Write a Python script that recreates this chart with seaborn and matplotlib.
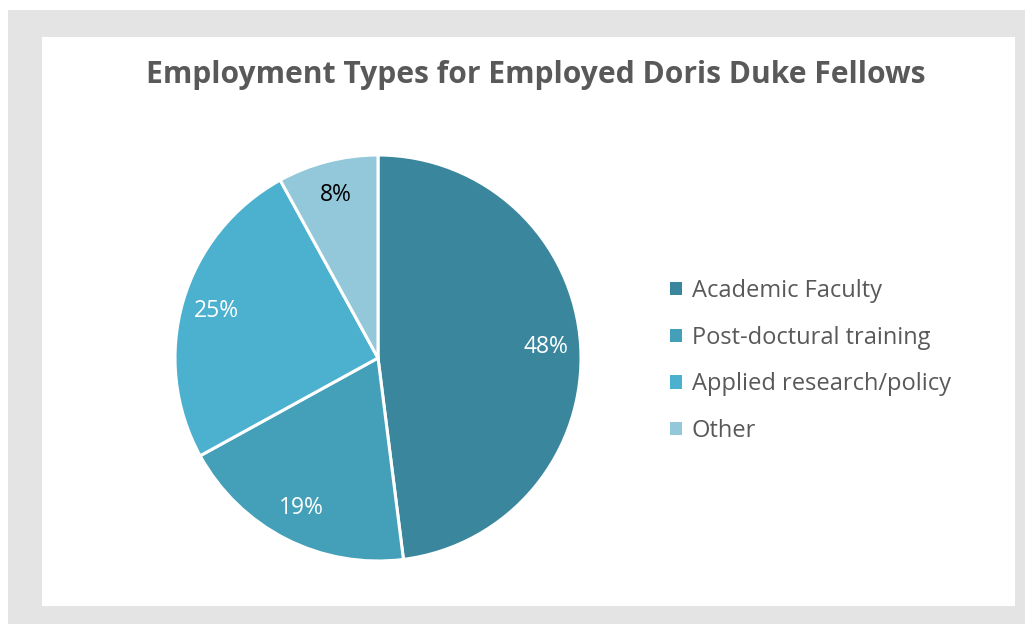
import matplotlib
matplotlib.use("Agg")
import matplotlib.pyplot as plt
import seaborn as sns
from matplotlib.patches import Rectangle, Patch

categories = ["Academic Faculty", "Post-doctural training", "Applied research/policy", "Other"]
values = [48, 19, 25, 8]
colors = ["#3A879D", "#449FB8", "#4BB1CF", "#93C8DA"]
label_colors = ["white", "white", "white", "black"]
title = "Employment Types for Employed Doris Duke Fellows"

sns.set_theme(style="white")
plt.rcParams['font.family'] = ['Open Sans', 'DejaVu Sans']

fig = plt.figure(figsize=(10.25, 6.24), dpi=100, facecolor="white")
W, H = 1025, 624

def px_rect(x0, y0, x1, y1, color):
    fig.patches.append(Rectangle((x0 / W, 1 - y1 / H), (x1 - x0) / W, (y1 - y0) / H,
                                 transform=fig.transFigure, facecolor=color,
                                 edgecolor="none", zorder=-10))

px_rect(8, 10, 1025, 624, "#E4E4E4")
px_rect(42, 37, 1015, 606, "white")

cx, cy, r = 378, 358, 203
ax = fig.add_axes([(cx - r) / W, 1 - (cy + r) / H, 2 * r / W, 2 * r / H])
wedges, texts, autotexts = ax.pie(values, colors=colors, startangle=90, counterclock=False,
                                  autopct=lambda p: f"{p:.0f}%", pctdistance=0.83,
                                  wedgeprops=dict(edgecolor="white", linewidth=2.2),
                                  textprops=dict(fontsize=16.5))
for t, c in zip(autotexts, label_colors):
    t.set_color(c)
ax.set_xlim(-1.0, 1.0)
ax.set_ylim(-1.0, 1.0)
ax.set_aspect("equal")
ax.axis("off")

fig.text(536 / W, 1 - 75 / H, title, ha="center", va="center", fontsize=21.6,
         fontweight="bold", color="#595959")

handles = [Patch(facecolor=c, edgecolor="none") for c in colors]
leg = fig.legend(handles, categories, loc="upper left", bbox_to_anchor=(670 / W, 1 - 279 / H),
                 frameon=False, fontsize=17, handlelength=0.5, handleheight=0.5,
                 handletextpad=0.42, labelspacing=0.96, borderpad=0, borderaxespad=0)
for t in leg.get_texts():
    t.set_color("#595959")

fig.savefig("out.png", dpi=100, facecolor="white")
